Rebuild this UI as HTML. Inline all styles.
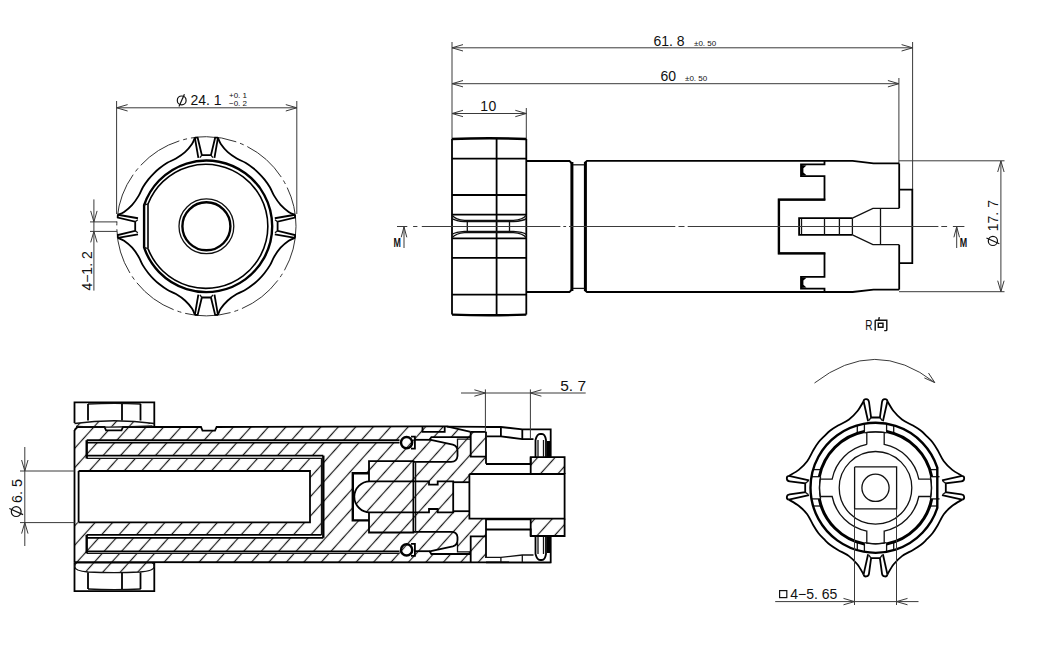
<!DOCTYPE html>
<html><head><meta charset="utf-8"><style>
html,body{margin:0;padding:0;background:#fff;width:1039px;height:645px;overflow:hidden}
svg{display:block}
.t{fill:none;stroke:#3a3a3a;stroke-width:1}
.m{fill:none;stroke:#111;stroke-width:1.3}
.m2{fill:none;stroke:#000;stroke-width:1.6}
.k2{fill:none;stroke:#000;stroke-width:1.8}
.k3{fill:none;stroke:#000;stroke-width:2.4}
.k4{fill:none;stroke:#000;stroke-width:3}
.ph{fill:none;stroke:#333;stroke-width:1;stroke-dasharray:46 4 4 4}
.cl{fill:none;stroke:#333;stroke-width:1;stroke-dasharray:88 3 6 3}
.sym{fill:none;stroke:#111;stroke-width:1.2}
.gl{fill:none;stroke:#111;stroke-width:1.4}
.tx{font-family:"Liberation Sans",sans-serif;fill:#111}
.txm{font-family:"Liberation Sans",sans-serif;fill:#111;font-weight:bold}
</style></head><body>
<svg width="1039" height="645" viewBox="0 0 1039 645">
<defs>
<pattern id="hatch" patternUnits="userSpaceOnUse" width="12.97" height="12.97" patternTransform="rotate(42) translate(-1.2 0)">
<rect x="-1" y="-1" width="15" height="15" fill="#fff"/>
<line x1="6.485" y1="-1" x2="6.485" y2="14" stroke="#1a1a1a" stroke-width="1.2"/>
</pattern>
</defs>
<circle class="ph" cx="206.4" cy="226.3" r="89.6"/>
<path class="k2" d="M194.85 137.7 C194.38 138.75 193.64 141.6 192 144 C190.36 146.4 187.67 149.68 185 152.1 C182.33 154.52 178.95 156.72 176 158.5 C173.05 160.28 170.05 161.17 167.3 162.8 C164.55 164.43 161.78 166.51 159.5 168.3 C157.22 170.09 155.5 171.7 153.65 173.55 C151.8 175.4 150.19 177.12 148.4 179.4 C146.61 181.68 144.53 184.45 142.9 187.2 C141.27 189.95 140.38 192.95 138.6 195.9 C136.82 198.85 134.62 202.23 132.2 204.9 C129.78 207.57 126.5 210.26 124.1 211.9 C121.7 213.54 118.85 214.28 117.8 214.75"/>
<path class="k2" d="M295 214.75 C293.95 214.28 291.1 213.54 288.7 211.9 C286.3 210.26 283.02 207.57 280.6 204.9 C278.18 202.23 275.98 198.85 274.2 195.9 C272.42 192.95 271.53 189.95 269.9 187.2 C268.27 184.45 266.19 181.68 264.4 179.4 C262.61 177.12 261 175.4 259.15 173.55 C257.3 171.7 255.58 170.09 253.3 168.3 C251.03 166.51 248.25 164.43 245.5 162.8 C242.75 161.17 239.75 160.28 236.8 158.5 C233.85 156.72 230.47 154.52 227.8 152.1 C225.13 149.68 222.44 146.4 220.8 144 C219.16 141.6 218.43 138.75 217.95 137.7"/>
<path class="k2" d="M217.95 314.9 C218.43 313.85 219.16 311 220.8 308.6 C222.44 306.2 225.13 302.92 227.8 300.5 C230.47 298.08 233.85 295.88 236.8 294.1 C239.75 292.32 242.75 291.43 245.5 289.8 C248.25 288.17 251.03 286.09 253.3 284.3 C255.58 282.51 257.3 280.9 259.15 279.05 C261 277.2 262.61 275.47 264.4 273.2 C266.19 270.93 268.27 268.15 269.9 265.4 C271.53 262.65 272.42 259.65 274.2 256.7 C275.98 253.75 278.18 250.37 280.6 247.7 C283.02 245.03 286.3 242.34 288.7 240.7 C291.1 239.06 293.95 238.33 295 237.85"/>
<path class="k2" d="M117.8 237.85 C118.85 238.33 121.7 239.06 124.1 240.7 C126.5 242.34 129.78 245.03 132.2 247.7 C134.62 250.37 136.82 253.75 138.6 256.7 C140.38 259.65 141.27 262.65 142.9 265.4 C144.53 268.15 146.61 270.93 148.4 273.2 C150.19 275.47 151.8 277.2 153.65 279.05 C155.5 280.9 157.22 282.51 159.5 284.3 C161.78 286.09 164.55 288.17 167.3 289.8 C170.05 291.43 173.05 292.32 176 294.1 C178.95 295.88 182.33 298.08 185 300.5 C187.67 302.92 190.36 306.2 192 308.6 C193.64 311 194.38 313.85 194.85 314.9"/>
<path class="k2" d="M194.85 137.7 L197.65 137.7 L201.85 155.1 L210.95 155.1 L215.15 137.7 L217.95 137.7"/>
<path class="k2" d="M194.85 137.7 L198.35 157.9"/>
<path class="k2" d="M217.95 137.7 L214.45 157.9"/>
<path class="m" d="M201.85 155.1 L199.9 157.7"/>
<path class="m" d="M210.95 155.1 L212.9 157.7"/>
<path class="k2" d="M295 214.75 L295 217.55 L277.6 221.75 L277.6 230.85 L295 235.05 L295 237.85"/>
<path class="k2" d="M295 214.75 L274.8 218.25"/>
<path class="k2" d="M295 237.85 L274.8 234.35"/>
<path class="m" d="M277.6 221.75 L275 219.8"/>
<path class="m" d="M277.6 230.85 L275 232.8"/>
<path class="k2" d="M217.95 314.9 L215.15 314.9 L210.95 297.5 L201.85 297.5 L197.65 314.9 L194.85 314.9"/>
<path class="k2" d="M217.95 314.9 L214.45 294.7"/>
<path class="k2" d="M194.85 314.9 L198.35 294.7"/>
<path class="m" d="M210.95 297.5 L212.9 294.9"/>
<path class="m" d="M201.85 297.5 L199.9 294.9"/>
<path class="k2" d="M117.8 237.85 L117.8 235.05 L135.2 230.85 L135.2 221.75 L117.8 217.55 L117.8 214.75"/>
<path class="k2" d="M117.8 237.85 L138 234.35"/>
<path class="k2" d="M117.8 214.75 L138 218.25"/>
<path class="m" d="M135.2 230.85 L137.8 232.8"/>
<path class="m" d="M135.2 221.75 L137.8 219.8"/>
<path class="k3" d="M144.1 205.13 A65.8 65.8 0 1 1 144.1 247.47 Z"/>
<path class="m2" d="M148 203.98 A62.0 62.0 0 1 1 148 248.62"/>
<path class="m2" d="M148 203.98 L148 248.62"/>
<path class="m" d="M144.1 205.13 L148 203.98"/>
<path class="m" d="M144.1 247.47 L148 248.62"/>
<circle class="m" cx="206.4" cy="226.3" r="27.4"/>
<circle class="k3" cx="206.4" cy="226.3" r="24.0"/>
<line class="t" x1="116.6" y1="101" x2="116.6" y2="214"/>
<line class="t" x1="296.8" y1="101" x2="296.8" y2="214"/>
<line class="t" x1="116.6" y1="107.8" x2="296.8" y2="107.8"/>
<path class="t" d="M127.6 104.6 L116.6 107.8 L127.6 111"/>
<path class="t" d="M285.8 111 L296.8 107.8 L285.8 104.6"/>
<g>
<circle class="sym" cx="181.7" cy="100.4" r="4.4"/>
<line class="sym" x1="178.97" y1="106.56" x2="184.43" y2="94.24"/>
</g>
<text class="tx" x="190.5" y="105.4" font-size="14" text-anchor="start" letter-spacing="0">24. 1</text>
<text class="tx" x="229" y="98" font-size="8" text-anchor="start" letter-spacing="0">+0. 1</text>
<text class="tx" x="229" y="105.6" font-size="8" text-anchor="start" letter-spacing="0">&#8722;0. 2</text>
<line class="t" x1="90" y1="221.9" x2="117" y2="221.9"/>
<line class="t" x1="90" y1="231.4" x2="117" y2="231.4"/>
<line class="t" x1="93.9" y1="199.4" x2="93.9" y2="290.6"/>
<path class="t" d="M90.7 210.9 L93.9 221.9 L97.1 210.9"/>
<path class="t" d="M97.1 242.4 L93.9 231.4 L90.7 242.4"/>
<text class="tx" x="92.2" y="290.6" font-size="14" text-anchor="start" letter-spacing="0" transform="rotate(-90 92.2 290.6)">4&#8722;1. 2</text>
<line class="t" x1="452" y1="42" x2="452" y2="139"/>
<line class="t" x1="912.6" y1="42" x2="912.6" y2="189.6"/>
<line class="t" x1="898.9" y1="78" x2="898.9" y2="163"/>
<line class="t" x1="452" y1="47.8" x2="912.6" y2="47.8"/>
<path class="t" d="M463 44.6 L452 47.8 L463 51"/>
<path class="t" d="M901.6 51 L912.6 47.8 L901.6 44.6"/>
<text class="tx" x="653.5" y="45.5" font-size="14" text-anchor="start" letter-spacing="0">61. 8</text>
<text class="tx" x="694" y="45.8" font-size="8" text-anchor="start" letter-spacing="0">&#177;0. 50</text>
<line class="t" x1="452" y1="83.7" x2="898.9" y2="83.7"/>
<path class="t" d="M463 80.5 L452 83.7 L463 86.9"/>
<path class="t" d="M887.9 86.9 L898.9 83.7 L887.9 80.5"/>
<text class="tx" x="660.4" y="80.8" font-size="14" text-anchor="start" letter-spacing="0">60</text>
<text class="tx" x="685" y="81.2" font-size="8" text-anchor="start" letter-spacing="0">&#177;0. 50</text>
<line class="t" x1="526.3" y1="108" x2="526.3" y2="139"/>
<line class="t" x1="452" y1="113.5" x2="526.3" y2="113.5"/>
<path class="t" d="M463 110.3 L452 113.5 L463 116.7"/>
<path class="t" d="M515.3 116.7 L526.3 113.5 L515.3 110.3"/>
<text class="tx" x="480.2" y="110.6" font-size="14" text-anchor="start" letter-spacing="0.6">10</text>
<line class="t" x1="899" y1="160.8" x2="1004.5" y2="160.8"/>
<line class="t" x1="899" y1="291.7" x2="1004.5" y2="291.7"/>
<line class="t" x1="1000.9" y1="161" x2="1000.9" y2="291.7"/>
<path class="t" d="M1004.1 172 L1000.9 161 L997.7 172"/>
<path class="t" d="M997.7 280.7 L1000.9 291.7 L1004.1 280.7"/>
<g transform="rotate(-90 992.9 240.9)">
<circle class="sym" cx="992.9" cy="240.9" r="4.6"/>
<line class="sym" x1="990.05" y1="247.34" x2="995.75" y2="234.46"/>
</g>
<text class="tx" x="997.7" y="231.2" font-size="14" text-anchor="start" letter-spacing="0" transform="rotate(-90 997.7 231.2)">17. 7</text>
<path class="k3" d="M452 139 Q489 137.6 526.3 139"/>
<path class="k3" d="M452 314.6 Q489 316 526.3 314.6"/>
<line class="k2" x1="452" y1="139" x2="452" y2="314.6"/>
<line class="k2" x1="526.3" y1="139" x2="526.3" y2="314.6"/>
<line class="k2" x1="496.6" y1="138.3" x2="496.6" y2="315.3"/>
<line class="k2" x1="452" y1="158.6" x2="526.3" y2="158.6"/>
<line class="k2" x1="452" y1="195" x2="526.3" y2="195"/>
<line class="k2" x1="452" y1="214.6" x2="526.3" y2="214.6"/>
<line class="k2" x1="452" y1="238.3" x2="526.3" y2="238.3"/>
<line class="k2" x1="452" y1="257.8" x2="526.3" y2="257.8"/>
<line class="k2" x1="452" y1="294.6" x2="526.3" y2="294.6"/>
<path class="m" d="M452 215.2 Q456 219.8 464.5 220.4 L513.4 220.4 Q523 219.8 526.3 215.2"/>
<path class="m" d="M452 218.6 Q456 221 464.5 221.6 L513.4 221.6 Q523 221 526.3 218.6"/>
<path class="m" d="M452 237.8 Q456 233.2 464.5 232.6 L513.4 232.6 Q523 233.2 526.3 237.8"/>
<path class="m" d="M452 234.4 Q456 232 464.5 231.4 L513.4 231.4 Q523 232 526.3 234.4"/>
<path class="m" d="M467.3 221.4 L467.3 231.5"/>
<path class="m" d="M509.5 221.4 L509.5 231.5"/>
<path class="k2" d="M526.3 161 L569.5 161 L571.5 163"/>
<path class="k2" d="M526.3 292 L569.5 292 L571.5 290"/>
<path class="k4" d="M571.9 162 L571.9 291"/>
<path class="k4" d="M585.4 162 L585.4 291"/>
<line class="m" x1="573" y1="164.8" x2="584.5" y2="164.8"/>
<line class="m" x1="573" y1="288.4" x2="584.5" y2="288.4"/>
<path class="k2" d="M584.5 163 L587 160.8 L852.6 160.8 L873.5 163.4 L899.2 163.4"/>
<path class="k2" d="M584.5 290 L587 292 L852.6 292 L873.5 289.6 L899.2 289.6"/>
<path class="k2" d="M899.2 163.4 L899.2 208.3"/>
<path class="k2" d="M899.2 244.7 L899.2 289.6"/>
<path class="k2" d="M899.2 189.6 L912.3 189.6 L912.3 263.2 L899.2 263.2"/>
<path class="k2" d="M824.5 160.8 L824.5 164.3 L801 164.3 L801 176.1 L824.5 176.1 L824.5 199.6 L778.9 199.6 L778.9 226.5 L778.9 253.4 L824.5 253.4 L824.5 276.9 L801 276.9 L801 288.7 L824.5 288.7 L824.5 292.2"/>
<path fill="#000" d="M801 165 L806.5 165.6 L803.4 168.2 L803.4 172.4 L806.5 175.2 L801 175.8 Z"/>
<path fill="#000" d="M801 288 L806.5 287.4 L803.4 284.8 L803.4 280.6 L806.5 277.8 L801 277.2 Z"/>
<path class="k3" d="M825.3 199.6 L778.9 199.6 L778.9 253.4 L825.3 253.4"/>
<path class="k2" d="M852.4 218.2 L799.1 218.2 L799.1 234.8 L852.4 234.8"/>
<line class="m" x1="801.5" y1="219" x2="801.5" y2="234"/>
<line class="m" x1="824.5" y1="218.2" x2="824.5" y2="234.8"/>
<line class="m" x1="839.4" y1="218.2" x2="839.4" y2="234.8"/>
<path class="m" d="M852.4 218.2 L852.4 234.8"/>
<path class="m" d="M852.4 218.2 L872.9 208.3 L899.2 208.3"/>
<path class="m" d="M852.4 234.8 L872.9 244.7 L899.2 244.7"/>
<line class="m" x1="880.5" y1="208.3" x2="880.5" y2="244.7"/>
<path class="t" d="M397 226.5 L407.3 226.5 M413.1 226.5 L417.4 226.5 M421.8 226.5 L560.4 226.5 M563.3 226.5 L566.1 226.5 M569 226.5 L675.3 226.5 M678.5 226.5 L684.5 226.5 M687.7 226.5 L938.4 226.5 M941.3 226.5 L947.1 226.5 M952.9 226.5 L964.4 226.5"/>
<line class="t" x1="404" y1="227" x2="404" y2="248"/>
<path class="t" d="M406.8 237.3 L404 226.8 L401.2 237.3"/>
<text class="txm" font-size="13.5" transform="translate(393.6 246.8) scale(0.66 1)">M</text>
<line class="t" x1="956.7" y1="227" x2="956.7" y2="248"/>
<path class="t" d="M959.5 237.3 L956.7 226.8 L953.9 237.3"/>
<text class="txm" font-size="13.5" transform="translate(959.8 246.8) scale(0.66 1)">M</text>
<path fill="url(#hatch)" stroke="none" d="M74.5 430 L77.5 427 L104.5 427 L106 430.4 L121.5 430.4 L123 427 L201 427 L202.5 430.6 L215 430.6 L216.6 427 L422.5 426.3 L446.8 426.3 L470.7 431.9 L486 431.9 L486 474 L469.4 474 L469.4 519 L486 519 L486 562.2 L74.5 562.2Z"/>
<rect fill="url(#hatch)" x="530.7" y="457.2" width="33.9" height="16.7"/>
<rect fill="url(#hatch)" x="530.7" y="518.7" width="33.9" height="17.3"/>
<path fill="url(#hatch)" d="M74.5 423.5 Q114 418 154.4 423.5 Q114 429 74.5 426Z"/>
<path fill="url(#hatch)" d="M77 562.8 L151.8 562.8 Q154.3 563 154.3 566.5 Q154 571 140 572 Q114 573.2 88 572 Q74.8 571 74.6 566.5 Q74.6 563 77 562.8 Z"/>
<rect fill="#fff" x="74.5" y="471" width="235.5" height="51.3"/>
<rect fill="#fff" x="453.6" y="482.2" width="16" height="29"/>
<rect fill="#fff" x="352.8" y="473.2" width="16.2" height="47.2"/>
<path fill="url(#hatch)" d="M369.8 481.3 A15.5 15.5 0 0 0 369.8 512.3 Z"/>
<path class="k2" d="M74.5 430 L77.5 427 L104.5 427 L106 430.4 L121.5 430.4 L123 427 L201 427 L202.5 430.6 L215 430.6 L216.6 427 L422.5 426.3 L446.8 426.3 L470.7 431.9"/>
<path class="k2" d="M74.5 430 L74.5 562.2"/>
<path class="k2" d="M74.5 423 L74.5 402.3 L154.3 402.3 L154.3 427"/>
<path class="m" d="M88 404 Q114 402.6 140.8 404"/>
<line class="k2" x1="88" y1="404" x2="88" y2="420.5"/>
<line class="k2" x1="122" y1="404" x2="122" y2="420.5"/>
<line class="k2" x1="140.5" y1="404" x2="140.5" y2="420.5"/>
<path class="m" d="M74.5 423.5 Q114 418 154.4 423.5"/>
<path class="m" d="M76 426.5 Q114 428 152.5 426"/>
<path class="k2" d="M74.5 562.2 L74.5 591.2 L154.3 591.2 L154.3 562.2"/>
<path class="m" d="M88 589 Q114 590.4 140.8 589"/>
<line class="k2" x1="88" y1="572.5" x2="88" y2="589"/>
<line class="k2" x1="122" y1="572.5" x2="122" y2="589"/>
<line class="k2" x1="140.5" y1="572.5" x2="140.5" y2="589"/>
<path class="m" d="M77 562.8 L151.8 562.8 Q154.3 563 154.3 566.5 Q154 571 140 572 Q114 573.2 88 572 Q74.8 571 74.6 566.5 Q74.6 563 77 562.8 Z"/>
<line class="k2" x1="74.5" y1="562.2" x2="550.7" y2="562.3"/>
<path class="k2" d="M78.6 471 L310 471 L310 522.3 L78.6 522.3"/>
<line class="k2" x1="78.6" y1="471" x2="78.6" y2="522.3"/>
<rect fill="#fff" x="86.7" y="440.2" width="312.8" height="2.4"/>
<rect fill="#fff" x="86.7" y="455.6" width="236.6" height="2.8"/>
<rect fill="#fff" x="321.5" y="455.6" width="1.8" height="82.2"/>
<rect fill="#fff" x="86.7" y="534.8" width="236.6" height="3"/>
<rect fill="#fff" x="86.7" y="551.3" width="312.8" height="2.1"/>
<line class="k2" x1="86.7" y1="440.2" x2="399.5" y2="440.2"/>
<line class="k2" x1="86.7" y1="442.6" x2="399.5" y2="442.6"/>
<line class="k3" x1="86.7" y1="440.2" x2="86.7" y2="458.5"/>
<line class="k2" x1="86.7" y1="455.6" x2="323.3" y2="455.6"/>
<path class="m" d="M86.7 458.4 L321.5 458.4 L321.5 535"/>
<line class="k3" x1="323.3" y1="455.6" x2="323.3" y2="537.8"/>
<line class="k2" x1="86.7" y1="534.8" x2="321.5" y2="534.8"/>
<line class="k2" x1="86.7" y1="537.8" x2="323.3" y2="537.8"/>
<line class="k3" x1="86.7" y1="534.8" x2="86.7" y2="553.3"/>
<line class="k2" x1="86.7" y1="551.3" x2="399.5" y2="551.3"/>
<line class="m" x1="86.7" y1="553.4" x2="399.5" y2="553.4"/>
<circle class="k3" cx="406.6" cy="442.6" r="5.6" fill="#fff"/>
<path class="k2" d="M411 436.6 L414.9 436.6 L414.9 448.6 L411 448.6"/>
<circle class="k3" cx="406.6" cy="549.9" r="5.6" fill="#fff"/>
<path class="k2" d="M411 543.9 L414.9 543.9 L414.9 555.9 L411 555.9"/>
<path fill="#fff" d="M429.7 439.6 L431.4 437.1 L457.5 437.1 L457.5 451 Q457.5 446 452.8 444.7 Z"/>
<line class="k2" x1="414.9" y1="439.8" x2="430" y2="439.8"/>
<path class="k2" d="M429.7 439.6 L431.4 437.1 L470.7 437.1"/>
<path class="k2" d="M429.7 439.6 L452.8 444.7 Q457.5 446 457.5 451 L457.5 456 Q457 461.8 451 461.8 L413.4 461.8"/>
<path class="m" d="M457.5 449 L457.5 439.2 L470.7 439.2"/>
<path class="k2" d="M422.5 426.3 L422.5 431.9 L444.7 431.9 L444.7 426.3"/>
<line class="k2" x1="446.8" y1="426.6" x2="487" y2="426.8"/>
<line class="k2" x1="470.7" y1="431.9" x2="486.3" y2="431.9"/>
<path class="k2" d="M470.7 431.9 L470.7 456.7 L486 456.7"/>
<path fill="#fff" d="M429.7 551.4 L431.4 554 L457.5 554 L457.5 540 Q457.5 545 452.8 546.3 Z"/>
<path class="k2" d="M414.9 551.2 L430 551.2"/>
<path class="k2" d="M429.7 551.4 L431.4 554 L470.7 554"/>
<path class="k2" d="M429.7 551.4 L452.8 546.3 Q457.5 545 457.5 540 L457.5 537 Q457 531.9 451 531.9 L413.4 531.9"/>
<path class="m" d="M457.5 542 L457.5 551.8 L470.7 551.8"/>
<path class="k2" d="M470.7 562.2 L470.7 536.4 L486 536.4"/>
<path class="k3" d="M369 473.2 L352.8 473.2 L352.8 520.4 L369 520.4"/>
<path class="k2" d="M369 481.3 L369 461.1 L413.4 461.1 L413.4 532.5 L369 532.5 L369 512.3"/>
<line class="m" x1="415.6" y1="461.1" x2="415.6" y2="532.5"/>
<path class="k2" d="M453.2 481.3 L437.7 481.3 L437.7 484.6 L429 484.6 L429 481.3 L369.8 481.3 A15.5 15.5 0 0 0 369.8 512.3 L429 512.3 L429 509 L437.7 509 L437.7 512.3 L453.2 512.3 Z"/>
<path class="k2" d="M453.2 482.2 L469.4 482.2"/>
<path class="k2" d="M453.2 511.2 L469.4 511.2"/>
<path class="k2" d="M469.4 474 L564.6 474 L564.6 518.7 L469.4 518.7 L469.4 474"/>
<path class="k2" d="M486 427 L500.9 427 L522.3 429.3 L550.7 429.3 L550.7 457.2"/>
<path class="k2" d="M487 436.3 L500.9 436.3 L522.3 439.1 L533.5 439.1"/>
<line class="k2" x1="500.9" y1="427" x2="500.9" y2="436.3"/>
<line class="k2" x1="522.3" y1="429.3" x2="522.3" y2="439.1"/>
<path class="k2" d="M486 431.9 L486 463.8"/>
<path class="k2" d="M486 464 L530.7 464 L530.7 457.2 L564.6 457.2 L564.6 474"/>
<path class="k2" d="M530.7 474 L530.7 457.2"/>
<path class="k2" d="M535.5 457 L535.5 440 Q537 434 540 434 L542 434 Q545 434 546 440 L546 457"/>
<line class="m" x1="538" y1="440" x2="538" y2="457"/>
<line class="m" x1="543.5" y1="440" x2="543.5" y2="457"/>
<rect x="547" y="441" width="3.2" height="16" fill="#000"/>
<path class="k2" d="M486 562.3 L550.7 562.3 L550.7 536"/>
<path class="m" d="M487 557.4 L500.9 557.4 L522.3 555 L533.5 555"/>
<line class="m" x1="500.9" y1="557.4" x2="500.9" y2="562.3"/>
<line class="m" x1="522.3" y1="555" x2="522.3" y2="562.3"/>
<path class="k2" d="M486 519 L486 558"/>
<path class="k2" d="M486 529.5 L530.7 529.5 L530.7 536 L564.6 536 L564.6 518.7"/>
<path class="k2" d="M530.7 518.7 L530.7 536"/>
<path class="k2" d="M535.5 536.5 L535.5 554 Q537 560 540 560 L542 560 Q545 560 546 554 L546 536.5"/>
<line class="m" x1="538" y1="537" x2="538" y2="554"/>
<line class="m" x1="543.5" y1="537" x2="543.5" y2="554"/>
<rect x="547" y="537" width="3.2" height="16" fill="#000"/>
<line class="k2" x1="486" y1="474" x2="530.7" y2="474"/>
<line class="k2" x1="486" y1="519.4" x2="530.7" y2="519.4"/>
<line class="t" x1="485.4" y1="389.4" x2="485.4" y2="432"/>
<line class="t" x1="530.4" y1="389.4" x2="530.4" y2="439"/>
<line class="t" x1="461" y1="393" x2="585.7" y2="393"/>
<path class="t" d="M474.4 396.2 L485.4 393 L474.4 389.8"/>
<path class="t" d="M541.4 389.8 L530.4 393 L541.4 396.2"/>
<text class="tx" x="560.2" y="390.5" font-size="15.5" text-anchor="start" letter-spacing="0">5. 7</text>
<line class="t" x1="20" y1="471" x2="74.5" y2="471"/>
<line class="t" x1="20" y1="522.6" x2="74.5" y2="522.6"/>
<line class="t" x1="24.8" y1="447" x2="24.8" y2="546"/>
<path class="t" d="M21.6 460 L24.8 471 L28 460"/>
<path class="t" d="M28 533.6 L24.8 522.6 L21.6 533.6"/>
<g transform="rotate(-90 16.2 511.6)">
<circle class="sym" cx="16.2" cy="511.6" r="4.9"/>
<line class="sym" x1="13.16" y1="518.46" x2="19.24" y2="504.74"/>
</g>
<text class="tx" x="21.8" y="503" font-size="14.4" text-anchor="start" letter-spacing="0" transform="rotate(-90 21.8 503)">6. 5</text>
<path class="t" d="M814.5 383 Q875 336 934.8 382.6"/>
<path class="t" d="M924.35 377.91 L934.8 382.6 L928.49 373.04"/>
<text class="tx" font-size="14" transform="translate(865.3 329.8) scale(0.72 1)">R</text>
<path class="gl" d="M879.3 317.2 L878.6 320.3 M875.2 320.3 L875.2 330.8 M875.2 320.3 L886.8 320.3 L886.8 330 Q886.8 330.6 885.8 330.6 L884.2 330.6 M878.3 323.3 L883 323.3 L883 327.3 L878.3 327.3 Z"/>
<path class="k2" d="M863.6 401.2 C862.55 402.88 859.73 408.25 857.3 411.3 C854.87 414.35 852.22 417.12 849 419.5 C845.78 421.88 841.17 423.72 838 425.6 C834.83 427.48 832.32 429 830 430.8 C827.68 432.6 826.02 434.48 824.1 436.4 C822.18 438.32 820.3 439.98 818.5 442.3 C816.7 444.62 815.18 447.13 813.3 450.3 C811.42 453.47 809.58 458.08 807.2 461.3 C804.82 464.52 802.05 467.17 799 469.6 C795.95 472.03 790.58 474.85 788.9 475.9"/>
<path class="k2" d="M962.1 475.9 C960.42 474.85 955.05 472.03 952 469.6 C948.95 467.17 946.18 464.52 943.8 461.3 C941.42 458.08 939.58 453.47 937.7 450.3 C935.82 447.13 934.3 444.62 932.5 442.3 C930.7 439.98 928.82 438.32 926.9 436.4 C924.98 434.48 923.32 432.6 921 430.8 C918.68 429 916.17 427.48 913 425.6 C909.83 423.72 905.22 421.88 902 419.5 C898.78 417.12 896.13 414.35 893.7 411.3 C891.27 408.25 888.45 402.88 887.4 401.2"/>
<path class="k2" d="M887.4 574.4 C888.45 572.72 891.27 567.35 893.7 564.3 C896.13 561.25 898.78 558.48 902 556.1 C905.22 553.72 909.83 551.88 913 550 C916.17 548.12 918.68 546.6 921 544.8 C923.32 543 924.98 541.12 926.9 539.2 C928.82 537.28 930.7 535.62 932.5 533.3 C934.3 530.98 935.82 528.47 937.7 525.3 C939.58 522.13 941.42 517.52 943.8 514.3 C946.18 511.08 948.95 508.43 952 506 C955.05 503.57 960.42 500.75 962.1 499.7"/>
<path class="k2" d="M788.9 499.7 C790.58 500.75 795.95 503.57 799 506 C802.05 508.43 804.82 511.08 807.2 514.3 C809.58 517.52 811.42 522.13 813.3 525.3 C815.18 528.47 816.7 530.98 818.5 533.3 C820.3 535.62 822.18 537.28 824.1 539.2 C826.02 541.12 827.68 543 830 544.8 C832.32 546.6 834.83 548.12 838 550 C841.17 551.88 845.78 553.72 849 556.1 C852.22 558.48 854.87 561.25 857.3 564.3 C859.73 567.35 862.55 572.72 863.6 574.4"/>
<path class="k2" d="M863.6 401.2 C864 398.3 868.5 398.3 869 402 L871.1 417.5 L879.9 417.5 L882 402 C882.5 398.3 887 398.3 887.4 401.2"/>
<path class="k2" d="M863.6 401.2 L868.1 421.3"/>
<path class="k2" d="M887.4 401.2 L882.9 421.3"/>
<path class="m" d="M871.1 417.5 L868.7 420.6"/>
<path class="m" d="M879.9 417.5 L882.3 420.6"/>
<path class="m" d="M864.4 423.75 L864.4 432.4"/>
<path class="m" d="M857.3 425.4 L857.3 434.31"/>
<path class="m" d="M886.6 423.75 L886.6 432.4"/>
<path class="m" d="M893.7 425.4 L893.7 434.31"/>
<path class="k2" d="M962.1 475.9 C965 476.3 965 480.8 961.3 481.3 L945.8 483.4 L945.8 492.2 L961.3 494.3 C965 494.8 965 499.3 962.1 499.7"/>
<path class="k2" d="M962.1 475.9 L942 480.4"/>
<path class="k2" d="M962.1 499.7 L942 495.2"/>
<path class="m" d="M945.8 483.4 L942.7 481"/>
<path class="m" d="M945.8 492.2 L942.7 494.6"/>
<path class="m" d="M939.55 476.7 L930.9 476.7"/>
<path class="m" d="M937.9 469.6 L928.99 469.6"/>
<path class="m" d="M939.55 498.9 L930.9 498.9"/>
<path class="m" d="M937.9 506 L928.99 506"/>
<path class="k2" d="M887.4 574.4 C887 577.3 882.5 577.3 882 573.6 L879.9 558.1 L871.1 558.1 L869 573.6 C868.5 577.3 864 577.3 863.6 574.4"/>
<path class="k2" d="M887.4 574.4 L882.9 554.3"/>
<path class="k2" d="M863.6 574.4 L868.1 554.3"/>
<path class="m" d="M879.9 558.1 L882.3 555"/>
<path class="m" d="M871.1 558.1 L868.7 555"/>
<path class="m" d="M886.6 551.85 L886.6 543.2"/>
<path class="m" d="M893.7 550.2 L893.7 541.29"/>
<path class="m" d="M864.4 551.85 L864.4 543.2"/>
<path class="m" d="M857.3 550.2 L857.3 541.29"/>
<path class="k2" d="M788.9 499.7 C786 499.3 786 494.8 789.7 494.3 L805.2 492.2 L805.2 483.4 L789.7 481.3 C786 480.8 786 476.3 788.9 475.9"/>
<path class="k2" d="M788.9 499.7 L809 495.2"/>
<path class="k2" d="M788.9 475.9 L809 480.4"/>
<path class="m" d="M805.2 492.2 L808.3 494.6"/>
<path class="m" d="M805.2 483.4 L808.3 481"/>
<path class="m" d="M811.45 498.9 L820.1 498.9"/>
<path class="m" d="M813.1 506 L822.01 506"/>
<path class="m" d="M811.45 476.7 L820.1 476.7"/>
<path class="m" d="M813.1 469.6 L822.01 469.6"/>
<path class="k3" d="M937.3 467.66 A65.0 65.0 0 1 0 937.3 507.94 Z"/>
<path class="k4" d="M886.6 431.59 A57.3 57.3 0 0 1 931.71 476.7"/>
<path class="m" d="M864.4 432.91 A56 56 0 0 1 886.6 432.91"/>
<path class="k4" d="M931.71 498.9 A57.3 57.3 0 0 1 886.6 544.01"/>
<path class="m" d="M930.39 476.7 A56 56 0 0 1 930.39 498.9"/>
<path class="k4" d="M864.4 544.01 A57.3 57.3 0 0 1 819.29 498.9"/>
<path class="m" d="M886.6 542.69 A56 56 0 0 1 864.4 542.69"/>
<path class="k4" d="M819.29 476.7 A57.3 57.3 0 0 1 864.4 431.59"/>
<path class="m" d="M820.61 498.9 A56 56 0 0 1 820.61 476.7"/>
<path class="m" d="M866.8 444.46 L866.8 432.48 A56.0 56.0 0 0 1 884.2 432.48 L884.2 444.46 A44.2 44.2 0 0 1 918.84 479.1 L930.82 479.1 A56.0 56.0 0 0 1 930.82 496.5 L918.84 496.5 A44.2 44.2 0 0 1 884.2 531.14 L884.2 543.12 A56.0 56.0 0 0 1 866.8 543.12 L866.8 531.14 A44.2 44.2 0 0 1 832.16 496.5 L820.18 496.5 A56.0 56.0 0 0 1 820.18 479.1 L832.16 479.1 A44.2 44.2 0 0 1 866.8 444.46"/>
<circle class="m" cx="875.5" cy="487.8" r="36.3"/>
<path class="m" d="M854.6 466.9 L896.6 466.9 L896.6 508.8 L854.6 508.8 L854.6 466.9"/>
<circle class="m" cx="875.5" cy="487.8" r="13.6"/>
<line class="t" x1="854.5" y1="508.8" x2="854.5" y2="605"/>
<line class="t" x1="896.5" y1="508.8" x2="896.5" y2="605"/>
<line class="t" x1="775.2" y1="601.6" x2="918.5" y2="601.6"/>
<path class="t" d="M843.5 604.8 L854.5 601.6 L843.5 598.4"/>
<path class="t" d="M907.5 598.4 L896.5 601.6 L907.5 604.8"/>
<rect class="sym" x="779.6" y="590.6" width="7.2" height="7"/>
<text class="tx" x="790.2" y="598.8" font-size="14" text-anchor="start" letter-spacing="0">4&#8722;5. 65</text>
</svg>
</body></html>
